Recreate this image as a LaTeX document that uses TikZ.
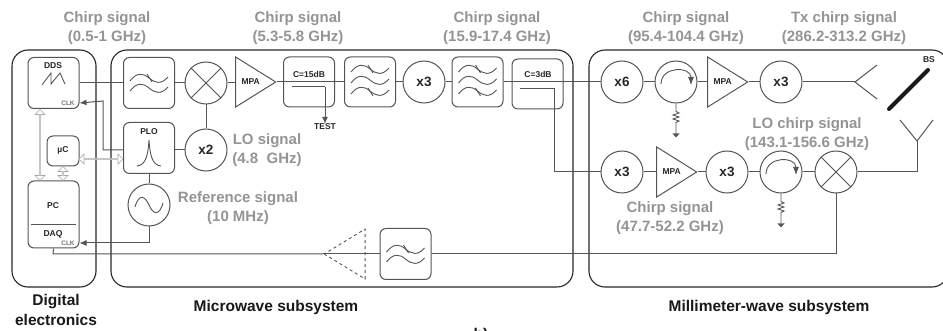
\documentclass[tikz,border=0pt]{standalone}
\usepackage{fontspec}
\setmainfont{Liberation Sans}
\usetikzlibrary{shapes.geometric,shapes.arrows,arrows.meta,calc}
\definecolor{ln}{gray}{0.33}
\definecolor{lbl}{gray}{0.58}
\tikzset{
  lw/.style={draw=ln,line width=1pt},
  group/.style={lw,draw=black!85,line width=1.1pt,rounded corners=16pt,inner sep=0pt},
  blk/.style={lw,rounded corners=6pt,minimum width=51pt,minimum height=51pt,inner sep=0pt},
  circ/.style={lw,circle,minimum size=42pt,inner sep=0pt,font=\bfseries\fontsize{13.5}{13.5}\selectfont,text=black!85},
  amp/.style={lw,isosceles triangle,isosceles triangle stretches,minimum width=50pt,minimum height=40pt,inner sep=0pt,anchor=apex,font=\bfseries\fontsize{8.5}{8.5}\selectfont,text=black!85},
  wire/.style={draw=ln,line width=1pt},
  thinw/.style={draw=ln,line width=0.9pt},
  sig/.style={text=lbl,font=\bfseries\fontsize{15}{18.5}\selectfont,align=center,inner sep=0pt},
  title/.style={text=black!90,font=\bfseries\fontsize{15.5}{20}\selectfont,align=center,inner sep=0pt},
  small/.style={text=black!85,font=\bfseries\fontsize{8.5}{8.5}\selectfont,inner sep=0pt},
  clk/.style={text=black!55,font=\bfseries\fontsize{6.5}{6.5}\selectfont,inner sep=0pt},
  link/.style={draw=black!35,fill=white,line width=0.7pt,double arrow,double arrow head extend=2.5pt,minimum width=10pt,inner sep=0pt},
  tip/.style={-{Latex[length=7pt,width=6pt]}}
}
\newcommand{\onewave}[3]{\draw[thinw,shift={(#1,#2+#3)}] (-19,1) .. controls (-12,-8) and (-6,-7) .. (0,-2) .. controls (6,3) and (12,5) .. (19,-3);}
\newcommand{\twowave}[2]{\onewave{#1}{#2}{-3}\onewave{#1}{#2}{7}\draw[thinw] (#1-2,#2-9) -- (#1+3,#2-1);}
\newcommand{\threewave}[2]{\onewave{#1}{#2}{-11}\onewave{#1}{#2}{0}\onewave{#1}{#2}{11}\draw[thinw] (#1-2,#2-17) -- (#1+3,#2-9) (#1-2,#2+6) -- (#1+3,#2+14);}
\newcommand{\crossin}[1]{\draw[thinw] (#1.45) -- (#1.225) (#1.135) -- (#1.315);}
\newcommand{\turn}[2]{\draw[thinw,-{Latex[length=8pt,width=6pt]}] (#1-15,#2+2) .. controls (#1-15,#2-16) and (#1+15,#2-16) .. (#1+15,#2+3);}
\newcommand{\load}[1]{\draw[thinw] (#1.south) -- ++(0,8) -- ++(3,1.5) -- ++(-6,2) -- ++(6,2) -- ++(-6,2) -- ++(6,2) -- ++(-3,1.5) -- ++(0,11);
  \fill[ln] ($(#1.south)+(-3.5,30)$) -- ++(7,0) -- ++(-3.5,4) -- cycle;}
\begin{document}
\begin{tikzpicture}[x=1pt,y=-1pt]
\useasboundingbox (0,0) rectangle (943,331);
% groups
\node[group,minimum width=84pt,minimum height=237pt] (gd) at (54,168.5) {};
\node[group,minimum width=462pt,minimum height=237pt] (gm) at (342,168.5) {};
\node[group,minimum width=359pt,minimum height=237pt] (gw) at (768.5,168.5) {};
% digital
\node[blk] (dds) at (53.5,83) {};
\node[small] (ddst) at (53,66) {DDS};
\node[blk,minimum width=32pt,minimum height=30pt] (uc) at (63,151) {};
\node[small] (uct) at (63,150) {µC};
\node[blk,minimum height=67pt] (pc) at (53.5,214.5) {};
\node[small] (pct) at (53,206) {PC};
\node[small] (daq) at (53,234) {DAQ};
\coordinate (dl) at (31,224); \coordinate (dr) at (76,224);
\draw[thinw] (dl) -- (dr);
\node[clk] (clk1) at (68,103) {CLK};
\node[clk] (clk2) at (68,243) {CLK};
% microwave
\node[blk] (f1) at (149,83) {};
\node[circ] (m1) at (206,83) {};
\node[amp] (a1) at (277,82) {MPA};
\node[blk,minimum height=50pt] (c15) at (309,82) {};
\node[small] (c15t) at (309,74) {C=15dB};
\node[blk,minimum height=50pt] (f2) at (370,82) {};
\node[circ] (x3a) at (424,82) {x3};
\node[blk,minimum height=50pt] (f3) at (477.5,82) {};
\node[blk,minimum height=50pt] (c3) at (537.5,84) {};
\node[small] (c3t) at (538,74) {C=3dB};
\node[blk] (plo) at (149,148) {};
\node[small] (plot) at (149,132) {PLO};
\node[circ] (x2) at (206,150) {x2};
\node[circ] (ref) at (149,205) {};
\node[blk] (f4) at (405.5,254) {};
\node[amp,minimum width=50pt,minimum height=41pt,shape border rotate=180,dashed,line width=0.9pt] (da) at (323,254) {};
\node[small] (test) at (325,127) {TEST};
% millimetre
\node[circ] (x6) at (622,82) {x6};
\node[circ] (c1) at (676,82) {};
\node[amp] (a2) at (749,82) {MPA};
\node[circ] (x3b) at (781,82) {x3};
\node[circ] (x3c) at (622,172) {x3};
\node[amp] (a3) at (698,172) {MPA};
\node[circ] (x3d) at (727,172) {x3};
\node[circ] (c2) at (781,172) {};
\node[circ] (m2) at (836,172) {};
\node[small] (bst) at (929,60) {BS};
\coordinate (ant1) at (855,82);
\coordinate (ant1a) at (877,65);
\coordinate (ant1b) at (877,99);
\coordinate (ant2) at (917,141);
\coordinate (ant2a) at (900,120);
\coordinate (ant2b) at (933,120);
\coordinate (bsa) at (889,109);
\coordinate (bsb) at (928,70);
% connectors
\draw[wire] (dds.east|-f1) -- (f1.west);
\draw[wire] (f1.east) -- (m1.west);
\draw[wire] (m1.east) -- (a1.west|-m1);
\draw[wire] (a1.apex) -- (c15.west);
\draw[wire] (c15.west) -- (f2.west);
\draw[wire] (f2.east) -- (x3a.west);
\draw[wire] (x3a.east) -- (f3.west);
\draw[wire] (f3.east) -- (x6.west);
\draw[wire] (x6.east) -- (c1.west);
\draw[wire] (c1.east) -- (a2.west|-c1);
\draw[wire] (a2.apex) -- (x3b.west);
\draw[wire] (x3b.east) -- (ant1);
\draw[wire] (ant1a) -- (ant1) -- (ant1b);
\draw[wire] (ant2a) -- (ant2) -- (ant2b);
\draw[wire] (ant2) |- (m2.east);
\draw[wire] (m2.west) -- (c2.east);
\draw[wire] (c2.west) -- (x3d.east);
\draw[wire] (x3d.west) -- (a3.apex);
\draw[wire] (a3.west|-x3c) -- (x3c.east);
\draw[wire] (m1.south) -- (x2.north);
\draw[wire] (plo.east|-x2) -- (x2.west);
\draw[wire] (plo.south) -- (ref.north);
\draw[wire,tip] (ref.south) -- (ref.south|-clk2) -- (pc.east|-clk2);
\draw[wire,tip] (plo.west|-x2) -- (103,150) -- (103,101) -- (dds.east|-clk1);
\draw[wire] (292,87) -- (325,87);
\draw[wire,tip] (325,87) -- (test.north);
\draw[wire] (520,89) -- (554,89) -- (554,172) -- (x3c.west);
\draw[wire] (m2.south) -- (836,254) -- (f4.east);
\draw[wire] (f4.west) -- (da.west|-f4);
\draw[wire] (da.apex) -- (53,254) -- (pc.south);
\draw[line width=4pt,line cap=round,black!90] (bsa) -- (bsb);
% symbols
\twowave{149}{83}
\threewave{370}{82}
\threewave{477.5}{82}
\twowave{405.5}{254}
\crossin{m1}
\crossin{m2}
\turn{676}{82}
\turn{781}{172}
\load{c1}
\load{c2}
\draw[thinw] (42,85) -- (51,73) -- (51,84) -- (60,73) -- (65,84);
\draw[thinw] (137,166) .. controls (146,165) and (148,155) .. (149,140) .. controls (150,155) and (152,165) .. (161,166);
\draw[thinw] (135,207) .. controls (139,193) and (145,196) .. (149,205) .. controls (153,214) and (159,217) .. (163,203);
% links
\node[link,minimum height=71pt,rotate=90] (l1) at (40,145) {};
\node[link,minimum height=14pt,rotate=90] (l2) at (63,173.5) {};
\node[link,minimum height=44pt] (l3) at (101,159) {};
% labels
\node[sig] (s1) at (107,28) {Chirp signal\\(0.5-1 GHz)};
\node[sig] (s2) at (298,28) {Chirp signal\\(5.3-5.8 GHz)};
\node[sig] (s3) at (497,28) {Chirp signal\\(15.9-17.4 GHz)};
\node[sig] (s4) at (686,28) {Chirp signal\\(95.4-104.4 GHz)};
\node[sig] (s5) at (844,28) {Tx chirp signal\\(286.2-313.2 GHz)};
\node[sig] (s6) at (807,134) {LO chirp signal\\(143.1-156.6 GHz)};
\node[sig] (s7) at (670,218) {Chirp signal\\(47.7-52.2 GHz)};
\node[sig] (s8) at (267,150) {LO signal\\(4.8 \ GHz)};
\node[sig] (s9) at (238,208) {Reference signal\\(10 MHz)};
\node[title] (t1) at (56,310) {Digital\\electronics};
\node[title] (t2) at (276,307) {Microwave subsystem};
\node[title] (t3) at (769,307) {Millimeter-wave subsystem};
\node[title,anchor=base] (t4) at (481,339) {b)};
\end{tikzpicture}
\end{document}
